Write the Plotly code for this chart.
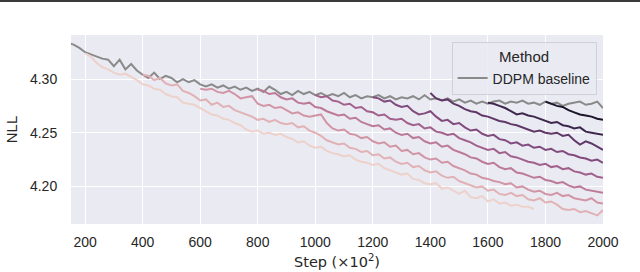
import math
import plotly.graph_objects as go

# ---------------- data ----------------
STEP_INTERVAL = 20  # evaluation every 20 (x10^2) steps

BASELINE_START = 140
BASELINE_NLL = [
    4.334, 4.332, 4.329, 4.325, 4.323, 4.321, 4.319, 4.318, 4.312, 4.318,
    4.309, 4.314, 4.308, 4.304, 4.301, 4.306, 4.300, 4.303, 4.301, 4.297,
    4.300, 4.297, 4.299, 4.295, 4.293, 4.295, 4.292, 4.294, 4.291, 4.293,
    4.290, 4.292, 4.289, 4.291, 4.288, 4.293, 4.290, 4.286, 4.288, 4.285,
    4.289, 4.286, 4.288, 4.285, 4.287, 4.284, 4.286, 4.284, 4.287, 4.283,
    4.285, 4.282, 4.284, 4.283, 4.285, 4.282, 4.284, 4.281, 4.283, 4.282,
    4.284, 4.281, 4.285, 4.281, 4.282, 4.280, 4.282, 4.279, 4.281, 4.278,
    4.280, 4.277, 4.279, 4.277, 4.279, 4.280, 4.277, 4.279, 4.278, 4.280,
    4.277, 4.278, 4.276, 4.279, 4.277, 4.278, 4.275, 4.277, 4.278, 4.279,
    4.276, 4.277, 4.279, 4.273,
]

# fine-tuning runs, keyed by the step they branch from
RUN_STARTS = [200, 400, 600, 800, 1000, 1200, 1400, 1600, 1800]

NLL_200 = [
    4.324, 4.321, 4.315, 4.311, 4.309, 4.306, 4.304, 4.305, 4.302, 4.299,
    4.295, 4.294, 4.291, 4.290, 4.286, 4.284, 4.283, 4.278, 4.277, 4.276,
    4.273, 4.270, 4.267, 4.266, 4.263, 4.262, 4.259, 4.257, 4.253, 4.251,
    4.252, 4.249, 4.250, 4.248, 4.249, 4.246, 4.244, 4.241, 4.242, 4.238,
    4.236, 4.237, 4.233, 4.231, 4.230, 4.228, 4.229, 4.225, 4.223, 4.222,
    4.220, 4.221, 4.217, 4.215, 4.213, 4.211, 4.212, 4.207, 4.206, 4.203,
    4.202, 4.203, 4.198, 4.199, 4.196, 4.193, 4.196, 4.190, 4.189, 4.191,
    4.186, 4.188, 4.184, 4.185, 4.182, 4.183, 4.181, 4.181, 4.179,
]
NLL_400 = [
    4.304, 4.303, 4.299, 4.301, 4.296, 4.294, 4.295, 4.289, 4.287, 4.284,
    4.280, 4.281, 4.276, 4.278, 4.274, 4.275, 4.271, 4.269, 4.267, 4.265,
    4.262, 4.263, 4.260, 4.262, 4.259, 4.258, 4.259, 4.255, 4.256, 4.252,
    4.250, 4.247, 4.243, 4.241, 4.239, 4.240, 4.236, 4.235, 4.232, 4.233,
    4.229, 4.230, 4.226, 4.227, 4.223, 4.221, 4.222, 4.218, 4.219, 4.215,
    4.213, 4.214, 4.210, 4.208, 4.209, 4.205, 4.203, 4.201, 4.199, 4.200,
    4.196, 4.197, 4.193, 4.192, 4.194, 4.191, 4.192, 4.188, 4.187, 4.189,
    4.185, 4.186, 4.183, 4.179, 4.178, 4.179, 4.176, 4.177, 4.175, 4.173,
    4.178,
]
NLL_600 = [
    4.291, 4.290, 4.291, 4.288, 4.287, 4.289, 4.286, 4.282, 4.283, 4.284,
    4.277, 4.275, 4.276, 4.273, 4.274, 4.271, 4.268, 4.269, 4.266, 4.265,
    4.266, 4.267, 4.259, 4.254, 4.252, 4.253, 4.249, 4.248, 4.245, 4.246,
    4.242, 4.240, 4.241, 4.237, 4.238, 4.233, 4.234, 4.230, 4.231, 4.227,
    4.225, 4.226, 4.222, 4.223, 4.219, 4.217, 4.215, 4.212, 4.211, 4.208,
    4.207, 4.205, 4.204, 4.202, 4.203, 4.199, 4.200, 4.197, 4.195, 4.196,
    4.193, 4.192, 4.194, 4.191, 4.192, 4.189, 4.188, 4.187, 4.189, 4.185,
    4.184,
]
NLL_800 = [
    4.290, 4.289, 4.286, 4.287, 4.283, 4.281, 4.282, 4.278, 4.277, 4.278,
    4.274, 4.273, 4.270, 4.268, 4.266, 4.267, 4.263, 4.264, 4.260, 4.258,
    4.256, 4.257, 4.253, 4.254, 4.250, 4.248, 4.249, 4.245, 4.246, 4.242,
    4.240, 4.241, 4.237, 4.238, 4.234, 4.232, 4.230, 4.227, 4.226, 4.223,
    4.221, 4.222, 4.218, 4.216, 4.217, 4.213, 4.212, 4.210, 4.208, 4.209,
    4.206, 4.205, 4.203, 4.204, 4.201, 4.199, 4.200, 4.197, 4.196, 4.195,
    4.194,
]
NLL_1000 = [
    4.285, 4.283, 4.284, 4.280, 4.279, 4.276, 4.277, 4.273, 4.274, 4.270,
    4.269, 4.266, 4.267, 4.263, 4.262, 4.263, 4.259, 4.257, 4.258, 4.254,
    4.255, 4.251, 4.250, 4.248, 4.249, 4.245, 4.243, 4.241, 4.238, 4.236,
    4.234, 4.235, 4.231, 4.232, 4.228, 4.227, 4.225, 4.223, 4.222, 4.220,
    4.221, 4.218, 4.219, 4.216, 4.217, 4.214, 4.213, 4.211, 4.212, 4.209,
    4.208,
]
NLL_1200 = [
    4.283, 4.282, 4.279, 4.280, 4.276, 4.274, 4.275, 4.270, 4.267, 4.268,
    4.270, 4.265, 4.261, 4.262, 4.258, 4.259, 4.255, 4.252, 4.253, 4.249,
    4.247, 4.248, 4.244, 4.243, 4.240, 4.241, 4.238, 4.239, 4.236, 4.237,
    4.234, 4.235, 4.232, 4.233, 4.230, 4.229, 4.227, 4.226, 4.224, 4.225,
    4.222,
]
NLL_1400 = [
    4.287, 4.282, 4.280, 4.281, 4.277, 4.275, 4.272, 4.270, 4.269, 4.266,
    4.265, 4.263, 4.261, 4.260, 4.258, 4.257, 4.255, 4.253, 4.251, 4.252,
    4.250, 4.249, 4.250, 4.247, 4.248, 4.243, 4.239, 4.242, 4.240, 4.237,
    4.234,
]
NLL_1600 = [
    4.278, 4.277, 4.275, 4.273, 4.270, 4.267, 4.268, 4.266, 4.265, 4.263,
    4.261, 4.259, 4.260, 4.257, 4.256, 4.254, 4.255, 4.251, 4.250, 4.249,
    4.248,
]
NLL_1800 = [
    4.279, 4.277, 4.275, 4.274, 4.271, 4.269, 4.267, 4.266, 4.265, 4.263,
    4.262,
]
RUN_NLL = [NLL_200, NLL_400, NLL_600, NLL_800, NLL_1000,
           NLL_1200, NLL_1400, NLL_1600, NLL_1800]

X_TICKS = [200, 400, 600, 800, 1000, 1200, 1400, 1600, 1800, 2000]
Y_TICKS = [4.20, 4.25, 4.30]


# ---------------- styling helpers ----------------
def cubehelix_hex(x, start=0.0, rot=0.4, gamma=1.0, hue=0.8):
    xg = x ** gamma
    a = hue * xg * (1 - xg) / 2
    phi = 2 * math.pi * (start / 3 + rot * x)
    r = xg + a * (-0.14861 * math.cos(phi) + 1.78277 * math.sin(phi))
    g = xg + a * (-0.29227 * math.cos(phi) - 0.90649 * math.sin(phi))
    b = xg + a * (1.97294 * math.cos(phi))
    c = [max(0, min(1, v)) for v in (r, g, b)]
    return "#%02x%02x%02x" % tuple(int(round(v * 255)) for v in c)


lo, hi = min(RUN_STARTS), max(RUN_STARTS)
LIGHT, DARK = 0.85, 0.10
COLORS = [cubehelix_hex(LIGHT - (LIGHT - DARK) * (s - lo) / (hi - lo))
          for s in RUN_STARTS]

FONT = "Liberation Sans, Arial, sans-serif"
TITLE_FONT = "DejaVu Sans, sans-serif"
TEXT = "#262626"

fig = go.Figure()

fig.add_trace(go.Scatter(
    x=[BASELINE_START + STEP_INTERVAL * i for i in range(len(BASELINE_NLL))],
    y=BASELINE_NLL, mode="lines", name="DDPM baseline",
    line=dict(color="#8a8a8a", width=2), showlegend=True,
))

for start, vals, col in zip(RUN_STARTS, RUN_NLL, COLORS):
    fig.add_trace(go.Scatter(
        x=[start + STEP_INTERVAL * i for i in range(len(vals))],
        y=vals, mode="lines", name=str(start),
        line=dict(color=col, width=2), showlegend=False,
    ))

# dark rule along the very top of the page
fig.add_shape(type="line", xref="paper", yref="paper",
              x0=-0.2, x1=1.2, y0=1.180, y1=1.180,
              line=dict(color="#3a3a3a", width=2))

# x-axis title placed below the tick labels
fig.add_annotation(
    text="Step (×10<sup>2</sup>)", xref="paper", yref="paper",
    x=0.5, y=-0.195, xanchor="center", yanchor="middle", showarrow=False,
    font=dict(family=TITLE_FONT, size=14.5, color=TEXT),
)

fig.update_layout(
    width=640, height=272,
    margin=dict(l=71, r=37, t=35, b=48),
    paper_bgcolor="white",
    plot_bgcolor="#eaeaf2",
    font=dict(family=FONT, size=14, color=TEXT),
    legend=dict(
        title=dict(text="Method", side="top center",
                   font=dict(size=15, color=TEXT)),
        x=0.988, y=0.963, xanchor="right", yanchor="top",
        bgcolor="rgba(234,234,242,0.85)", bordercolor="#d0d0d8", borderwidth=1,
        font=dict(size=14, color=TEXT),
        itemwidth=30, tracegroupgap=0,
    ),
    xaxis=dict(
        range=[151, 2000], tickvals=X_TICKS, automargin=False,
        showgrid=True, gridcolor="white", gridwidth=1.2,
        zeroline=False, showline=False,
        ticks="outside", ticklen=5, tickcolor="rgba(0,0,0,0)",
        tickfont=dict(size=14, color=TEXT),
    ),
    yaxis=dict(
        range=[4.165, 4.341], tickvals=Y_TICKS, tickformat=".2f",
        automargin=False,
        showgrid=True, gridcolor="white", gridwidth=1.2,
        zeroline=False, showline=False,
        ticks="outside", ticklen=10, tickcolor="rgba(0,0,0,0)",
        tickfont=dict(size=14, color=TEXT),
        title=dict(text="NLL", standoff=8, font=dict(size=15, color=TEXT)),
    ),
)

fig.write_html(
    "out.html",
    config={"displayModeBar": False},
    post_script="document.body.style.margin='0';document.body.style.padding='0';",
)
